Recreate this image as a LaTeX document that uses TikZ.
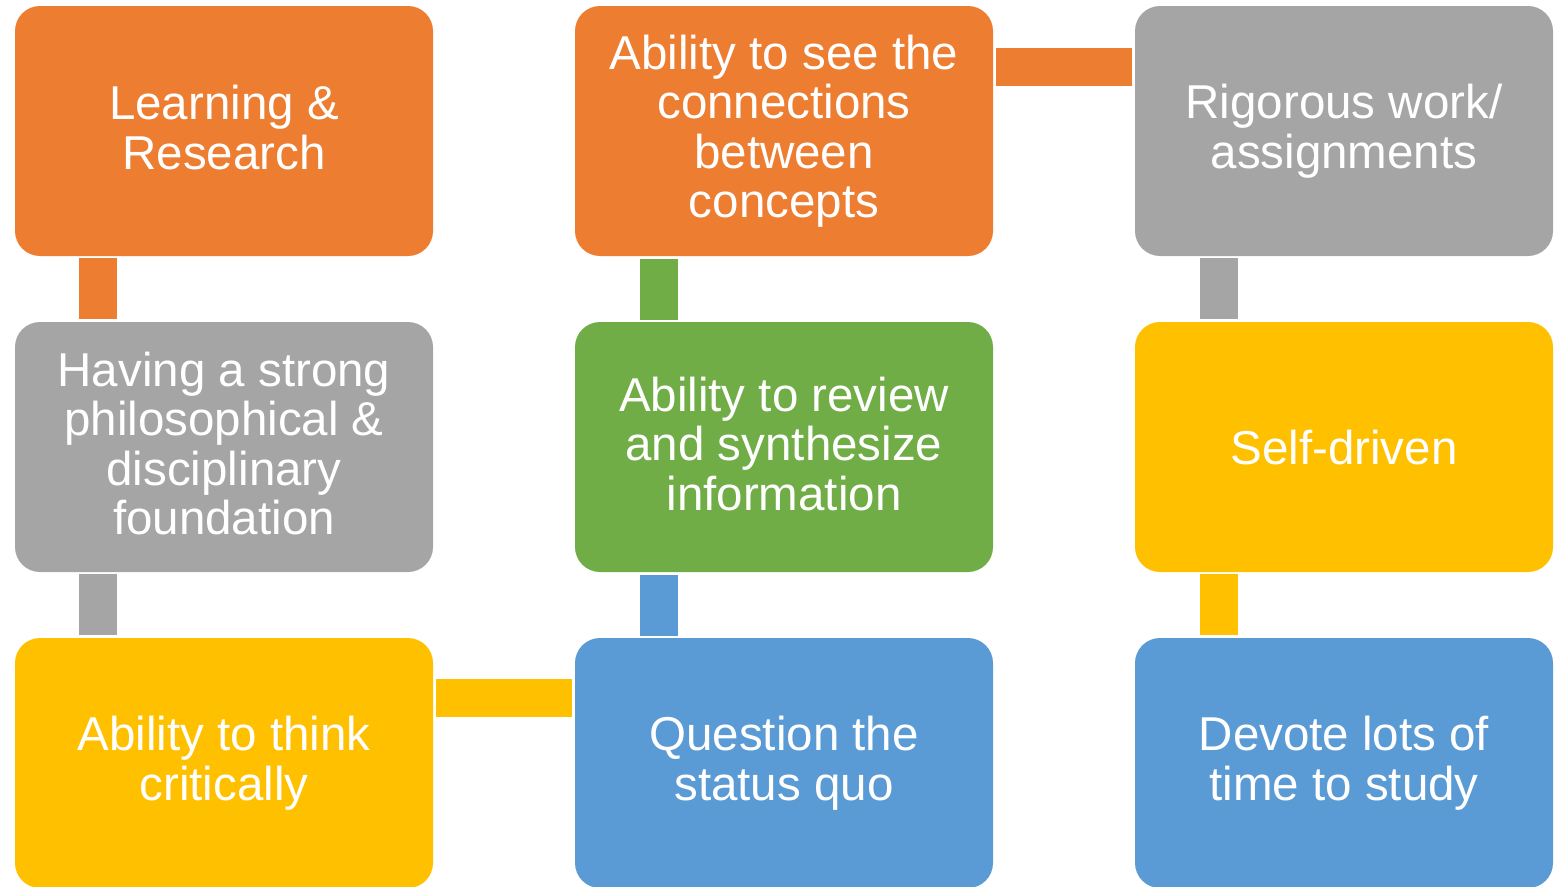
\documentclass[tikz,border=0pt]{standalone}
\usepackage{fontspec}
\setmainfont{Liberation Sans}
\definecolor{cOrange}{HTML}{ED7D31}
\definecolor{cGray}{HTML}{A5A5A5}
\definecolor{cYellow}{HTML}{FFC000}
\definecolor{cBlue}{HTML}{5B9BD5}
\definecolor{cGreen}{HTML}{70AD47}
\newcommand\lnfix{\rule[-7.25pt]{0pt}{49.5pt}}
\tikzset{
  box/.style={rectangle, rounded corners=25pt, minimum width=418pt, minimum height=250pt,
    inner sep=0pt, text=white, align=center, font=\fontsize{47.5}{49.5}\selectfont,
    execute at begin node=\lnfix, execute at end node=\lnfix},
  vbar/.style={line width=38pt, draw=#1, line cap=butt, shorten <=2pt, shorten >=3pt},
  hbar/.style={line width=38pt, draw=#1, line cap=butt, shorten <=3pt, shorten >=3pt}
}
\begin{document}
\begin{tikzpicture}[x=1pt,y=-1pt]
\useasboundingbox (0,0) rectangle (1560,886);
\clip (0,0) rectangle (1560,886);
\node[box, fill=cOrange] (L) at (224,131) {Learning \&\\Research};
\node[box, fill=cGray] (H) at (224,447) {Having a strong\\philosophical \&\\disciplinary\\foundation};
\node[box, fill=cYellow] (T) at (224,763) {Ability to think\\critically};
\node[box, fill=cOrange] (S) at (784,131) {Ability to see the\\connections\\between\\concepts};
\node[box, fill=cGreen] (R) at (784,447) {Ability to review\\and synthesize\\information};
\node[box, fill=cBlue] (Q) at (784,763) {Question the\\status quo};
\node[box, fill=cGray] (W) at (1344,131) {Rigorous work/\\assignments};
\node[box, fill=cYellow] (D) at (1344,447) {Self-driven};
\node[box, fill=cBlue] (V) at (1344,763) {Devote lots of\\time to study};
\draw[vbar=cOrange] ([xshift=-126pt]L.south) -- ([xshift=-126pt]H.north);
\draw[vbar=cGray] ([xshift=-126pt]H.south) -- ([xshift=-126pt]T.north);
\draw[hbar=cYellow] ([yshift=65pt]T.east) -- ([yshift=65pt]Q.west);
\draw[vbar=cBlue] ([xshift=-125pt]Q.north) -- ([xshift=-125pt]R.south);
\draw[vbar=cGreen] ([xshift=-125pt]R.north) -- ([xshift=-125pt]S.south);
\draw[hbar=cOrange] ([yshift=64pt]S.east) -- ([yshift=64pt]W.west);
\draw[vbar=cGray] ([xshift=-125pt]W.south) -- ([xshift=-125pt]D.north);
\draw[vbar=cYellow] ([xshift=-125pt]D.south) -- ([xshift=-125pt]V.north);
\end{tikzpicture}
\end{document}
